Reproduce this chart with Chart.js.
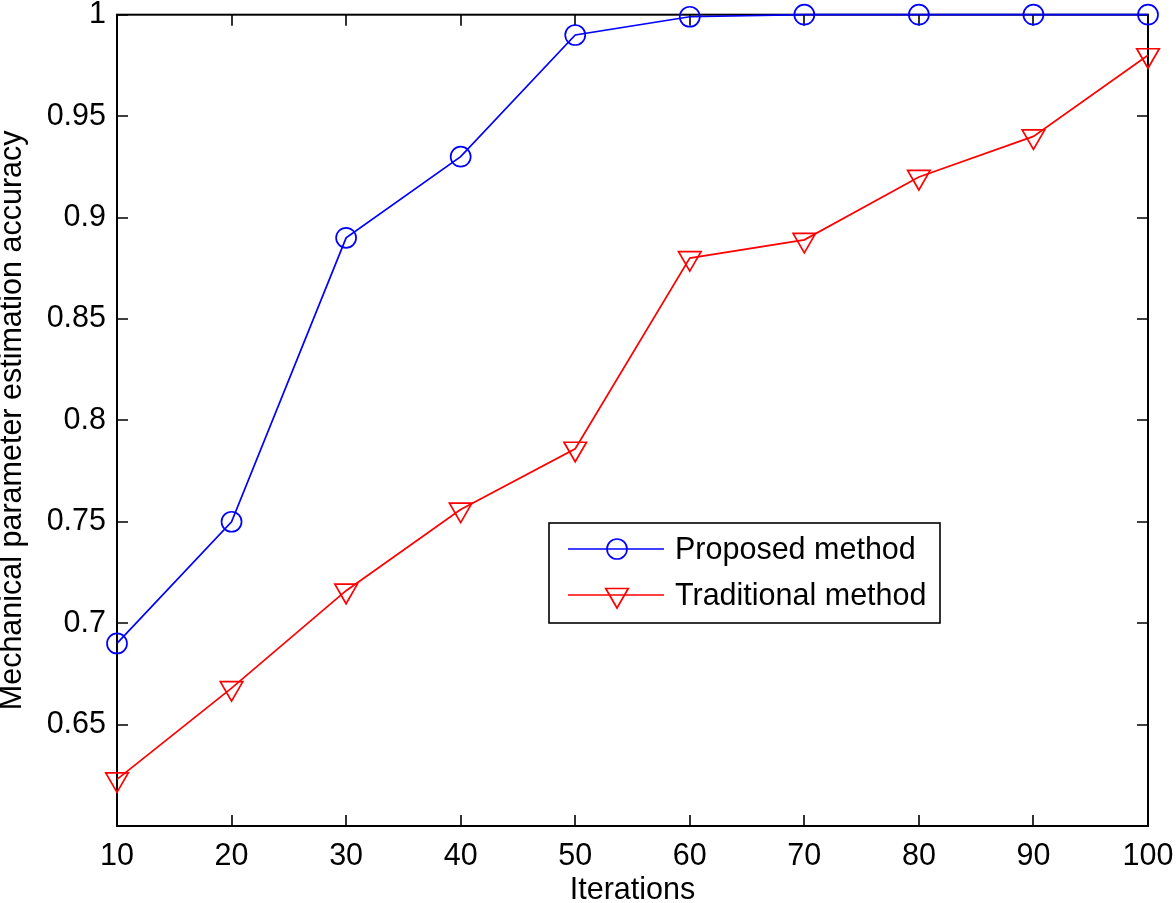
<!DOCTYPE html>
<html>
<head>
<meta charset="utf-8">
<script src="https://cdn.jsdelivr.net/npm/chart.js@4.4.0/dist/chart.umd.min.js"></script>
<style>
html,body{margin:0;padding:0;background:#fff;}
canvas{display:block;}
</style>
</head>
<body>
<canvas id="c" width="1176" height="903"></canvas>
<script>
const iterations = [10, 20, 30, 40, 50, 60, 70, 80, 90, 100];
const proposed = [0.69, 0.75, 0.89, 0.93, 0.99, 0.999, 1.0, 1.0, 1.0, 1.0];
const traditional = [0.623, 0.668, 0.716, 0.756, 0.786, 0.880, 0.889, 0.920, 0.940, 0.980];
const seriesLabels = ['Proposed method', 'Traditional method'];
const xTitle = 'Iterations';
const yTitle = 'Mechanical parameter estimation accuracy';

const FONT = "'Liberation Sans', Arial, Helvetica, sans-serif";
const FS = 30.5;

function toPts(ys){ return iterations.map((x,i)=>({x:x, y:ys[i]})); }

const framePlugin = {
  id: 'frame',
  beforeDatasetsDraw(chart){
    const {ctx, chartArea:a, scales} = chart;
    ctx.save();
    ctx.strokeStyle = '#000';
    ctx.lineWidth = 1.6;
    const tl = 11;
    ctx.beginPath();
    scales.x.ticks.forEach(t=>{
      const px = Math.round(scales.x.getPixelForValue(t.value));
      ctx.moveTo(px, a.bottom); ctx.lineTo(px, a.bottom - tl);
      ctx.moveTo(px, a.top); ctx.lineTo(px, a.top + tl);
    });
    scales.y.ticks.forEach(t=>{
      const py = Math.round(scales.y.getPixelForValue(t.value));
      ctx.moveTo(a.left, py); ctx.lineTo(a.left + tl, py);
      ctx.moveTo(a.right, py); ctx.lineTo(a.right - tl, py);
    });
    ctx.stroke();
    ctx.lineWidth = 2;
    ctx.strokeRect(a.left, a.top, a.right - a.left, a.bottom - a.top);
    ctx.restore();
  }
};

function drawMarker(ctx, style, x, y, color){
  ctx.save();
  ctx.strokeStyle = color; ctx.lineWidth = 1.7;
  ctx.beginPath();
  if (style === 'circle') {
    ctx.arc(x, y, 10, 0, Math.PI*2);
  } else {
    const r = 13;
    ctx.moveTo(x, y + r);
    ctx.lineTo(x - r*Math.sin(Math.PI/3), y - r/2);
    ctx.lineTo(x + r*Math.sin(Math.PI/3), y - r/2);
    ctx.closePath();
  }
  ctx.stroke();
  ctx.restore();
}

const legendPlugin = {
  id: 'boxLegend',
  afterDatasetsDraw(chart){
    const ctx = chart.ctx;
    const bx = 549, by = 523, bw = 391, bh = 100;
    ctx.save();
    ctx.fillStyle = '#fff';
    ctx.fillRect(bx, by, bw, bh);
    ctx.strokeStyle = '#000'; ctx.lineWidth = 1.6;
    ctx.strokeRect(bx, by, bw, bh);
    const rows = [549, 595];
    chart.data.datasets.forEach((ds, i)=>{
      const y = rows[i];
      ctx.strokeStyle = ds.borderColor; ctx.lineWidth = 1.7;
      ctx.beginPath(); ctx.moveTo(568, y); ctx.lineTo(664, y); ctx.stroke();
      drawMarker(ctx, i === 0 ? 'circle' : 'tri', 617, y, ds.borderColor);
      ctx.fillStyle = '#000';
      ctx.font = FS + 'px ' + FONT;
      ctx.textBaseline = 'middle';
      ctx.textAlign = 'left';
      ctx.fillText(ds.label, 675, y + 2);
    });
    ctx.restore();
  }
};

new Chart(document.getElementById('c'), {
  type: 'line',
  data: {
    datasets: [
      {
        label: seriesLabels[0], data: toPts(proposed),
        borderColor: '#0000ff', backgroundColor: 'rgba(0,0,0,0)',
        borderWidth: 1.7, pointStyle: 'circle', pointRadius: 10,
        pointBorderColor: '#0000ff', pointBackgroundColor: 'rgba(0,0,0,0)',
        pointBorderWidth: 1.7, tension: 0, clip: false
      },
      {
        label: seriesLabels[1], data: toPts(traditional),
        borderColor: '#ff0000', backgroundColor: 'rgba(0,0,0,0)',
        borderWidth: 1.7, pointStyle: 'triangle', rotation: 180, pointRadius: 13,
        pointBorderColor: '#ff0000', pointBackgroundColor: 'rgba(0,0,0,0)',
        pointBorderWidth: 1.7, tension: 0, clip: false
      }
    ]
  },
  options: {
    responsive: false,
    animation: false,
    devicePixelRatio: 1,
    layout: { padding: { top: 8, right: 28, left: 0, bottom: 0 } },
    plugins: { legend: { display: false }, tooltip: { enabled: false } },
    scales: {
      x: {
        type: 'linear', min: 10, max: 100,
        ticks: { stepSize: 10, color: '#000', padding: 12, font: { size: FS, family: FONT },
                 maxRotation: 0, autoSkip: false },
        grid: { display: false, drawTicks: false },
        border: { display: false },
        title: { display: true, text: xTitle, color: '#000', font: { size: FS, family: FONT, lineHeight: 0.8 }, padding: 0 },
        afterFit(s){ s.height = 77; s.paddingLeft = 0; s.paddingRight = 0; }
      },
      y: {
        type: 'linear', min: 0.6, max: 1,
        afterBuildTicks(s){ s.ticks = s.ticks.filter(t => t.value > 0.6 + 1e-9); },
        ticks: { stepSize: 0.05, color: '#000', padding: 11, font: { size: FS, family: FONT },
                 callback: v => parseFloat(Number(v).toFixed(2)).toString() },
        grid: { display: false, drawTicks: false },
        border: { display: false },
        title: { display: true, text: yTitle, color: '#000', font: { size: FS, family: FONT, lineHeight: 0.85 }, padding: 0 },
        afterFit(s){ s.width = 117; s.paddingTop = 0; s.paddingBottom = 0; }
      }
    }
  },
  plugins: [framePlugin, legendPlugin]
});
</script>
</body>
</html>
